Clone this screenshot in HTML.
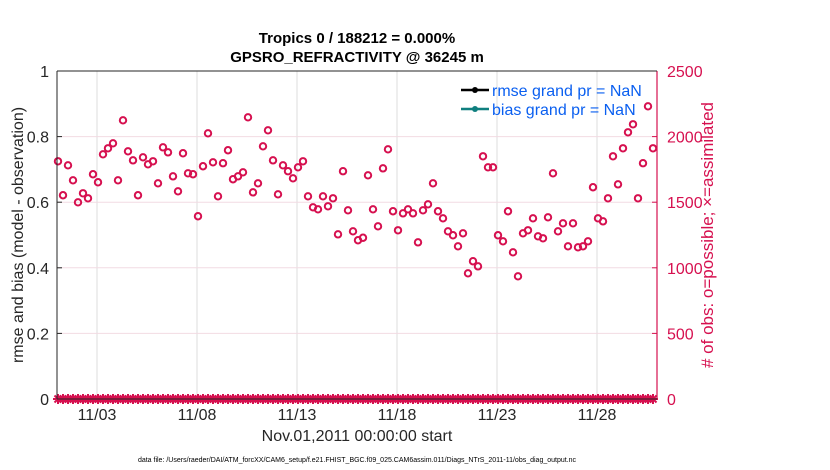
<!DOCTYPE html>
<html><head><meta charset="utf-8"><style>
body{margin:0;background:#fff;font-family:"Liberation Sans",sans-serif;}
svg{display:block}
</style></head><body>
<svg id="chart" width="830" height="470" viewBox="0 0 830 470" font-family="Liberation Sans, sans-serif">
<rect width="830" height="470" fill="#fff"/>
<g id="grid"></g>
<g id="marks"></g>
<g id="axes"></g>
<text x="357" y="43" text-anchor="middle" font-size="15" font-weight="bold" fill="#000">Tropics 0 / 188212 = 0.000%</text>
<text x="357" y="62" text-anchor="middle" font-size="15" font-weight="bold" fill="#000">GPSRO_REFRACTIVITY @ 36245 m</text>
<text transform="translate(23,235) rotate(-90)" text-anchor="middle" font-size="16" fill="#262626">rmse and bias (model - observation)</text>
<text transform="translate(713,235) rotate(-90)" text-anchor="middle" font-size="17" fill="#d6104f"># of obs: o=possible; ×=assimilated</text>
<text x="357" y="441" text-anchor="middle" font-size="16" fill="#262626">Nov.01,2011 00:00:00 start</text>
<text x="357" y="462" text-anchor="middle" font-size="7" fill="#000">data file: /Users/raeder/DAI/ATM_forcXX/CAM6_setup/f.e21.FHIST_BGC.f09_025.CAM6assim.011/Diags_NTrS_2011-11/obs_diag_output.nc</text>
<g>
<line x1="461" y1="90" x2="489" y2="90" stroke="#000" stroke-width="2.5"/>
<circle cx="475" cy="90" r="3" fill="#000"/>
<text x="492" y="96" font-size="16" fill="#0a5ff0">rmse grand pr = NaN</text>
<line x1="461" y1="109" x2="489" y2="109" stroke="#0f7f7f" stroke-width="2.5"/>
<circle cx="475" cy="109" r="3" fill="#0f7f7f"/>
<text x="492" y="115" font-size="16" fill="#0a5ff0">bias grand pr = NaN</text>
</g>
</svg>
<script>
const possibleCounts=[1812,1553,1781,1667,1499,1568,1530,1713,1652,1865,1911,1949,1667,2124,1888,1819,1553,1842,1789,1812,1644,1918,1880,1697,1583,1873,1720,1713,1393,1774,2025,1804,1545,1797,1896,1675,1697,1728,2147,1575,1644,1926,2048,1819,1560,1781,1736,1682,1766,1812,1545,1461,1446,1545,1469,1530,1255,1736,1438,1278,1210,1229,1705,1446,1316,1758,1903,1431,1286,1415,1446,1415,1194,1438,1484,1644,1431,1377,1278,1248,1164,1263,958,1050,1011,1850,1766,1766,1248,1202,1431,1118,935,1263,1286,1377,1240,1225,1385,1720,1278,1339,1164,1339,1156,1164,1202,1614,1377,1354,1530,1850,1636,1911,2033,2094,1530,1797,2231,1911];
const assimilatedCounts=possibleCounts.map(()=>0);
const xTickLabels=["11/03","11/08","11/13","11/18","11/23","11/28"];
const xTickDays=[2,7,12,17,22,27];
const leftTicks=[0,0.2,0.4,0.6,0.8,1];
const rightTicks=[0,500,1000,1500,2000,2500];
const L=57,R=657,T=71,B=399;
const xs=d=>L+d*(R-L)/30;
const yl=v=>B-v*(B-T);
const yr=v=>B-v/2500*(B-T);
const NS="http://www.w3.org/2000/svg";
function mk(tag,attrs,parent){const e=document.createElementNS(NS,tag);for(const k in attrs)e.setAttribute(k,attrs[k]);parent.appendChild(e);return e;}
const grid=document.getElementById('grid'),marks=document.getElementById('marks'),axes=document.getElementById('axes');
xTickDays.forEach((d,i)=>{
  const g=mk('line',{x1:xs(d),x2:xs(d),y1:T,y2:B,stroke:'#dcdcdc','stroke-width':1},grid);
  
  
  const t=mk('text',{x:xs(d),y:B+21,'text-anchor':'middle','font-size':16,fill:'#262626'},axes);
  t.textContent=xTickLabels[i];
  
  
});
leftTicks.forEach(v=>{
  if(v>0&&v<1){const g=mk('line',{x1:L,x2:R,y1:yl(v),y2:yl(v),stroke:'#f2dbe3','stroke-width':1},grid);
  
  }
  const t=mk('text',{x:L-8,y:yl(v)+6,'text-anchor':'end','font-size':16,fill:'#262626'},axes);
  t.textContent=String(v);
  
  
  const tk=mk('line',{x1:L,x2:L+5,y1:yl(v),y2:yl(v),stroke:'#262626'},axes);
  
  
});
rightTicks.forEach(v=>{
  const t=mk('text',{x:R+10,y:yr(v)+6,'font-size':16,fill:'#d6104f'},axes);
  t.textContent=String(v);
  
  
  const tk=mk('line',{x1:R-5,x2:R,y1:yr(v),y2:yr(v),stroke:'#d6104f'},axes);
  
  
});
let a=mk('line',{x1:L,x2:L,y1:T,y2:B,stroke:'#262626','stroke-width':1},axes);


a=mk('line',{x1:R,x2:R,y1:T,y2:B,stroke:'#d6104f','stroke-width':1.2},axes);


a=mk('line',{x1:L,x2:R,y1:T,y2:T,stroke:'#262626','stroke-width':1},axes);


a=mk('line',{x1:L,x2:R,y1:B,y2:B,stroke:'#262626','stroke-width':1},axes);


possibleCounts.forEach((v,i)=>{
  const cx=L+1+i*5*(R-L)/600;
  const c=mk('circle',{cx:cx,cy:yr(v),r:3.2,fill:'none',stroke:'#d6104f','stroke-width':2},marks);
  
  
  const y=yr(assimilatedCounts[i]);
  const s=mk('path',{d:`M${cx-5},${y}h10M${cx},${y-5}v10M${cx-3.5},${y-3.5}l7,7M${cx-3.5},${y+3.5}l7,-7`,stroke:'#d6104f','stroke-width':2,fill:'none'},marks);
  
  
});
</script>
</body></html>
